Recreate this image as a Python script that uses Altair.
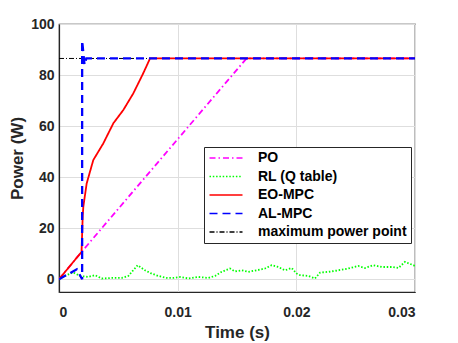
import altair as alt
import pandas as pd

# ---- data ----
series_names = ["PO", "RL (Q table)", "EO-MPC", "AL-MPC", "maximum power point"]
series_colors = ["#ff00ff", "#00ff00", "#ff0000", "#0000ff", "#000000"]
series_dash = [[6, 3, 1.5, 3], [1.5, 1.8], [1, 0], [8, 5], [5, 2, 1, 2]]
series_width = [1.8, 1.8, 1.8, 2.3, 1]

po_t = [0, 0.0019, 0.0158, 0.03]
po_p = [0, 10.7, 86.5, 86.5]

rl_t = [0, 0.00008, 0.0005, 0.00118, 0.00177, 0.00244, 0.00303, 0.0036, 0.00444,
        0.00528, 0.00584, 0.00663, 0.00725, 0.00781, 0.00837, 0.00908, 0.00963,
        0.0102, 0.0109, 0.01174, 0.01258, 0.01315, 0.01371, 0.01441, 0.01483,
        0.0154, 0.01595, 0.01666, 0.01736, 0.01792, 0.01848, 0.01904, 0.01961,
        0.02003, 0.02031, 0.02101, 0.02157, 0.022, 0.02269, 0.02354, 0.02438,
        0.02522, 0.02579, 0.02649, 0.0272, 0.02804, 0.0286, 0.02916, 0.02986, 0.03]
rl_p = [0, 0.3, 1.3, 2.7, 1.3, 0.9, 1.6, 0.3, 0.5,
        0.5, 1.3, 5.5, 3.5, 2.2, 1.3, 0.5, 0.5,
        0.9, 0.3, 0.9, 0.5, 1.3, 2.9, 4.2, 3.1,
        3.5, 2.9, 3.5, 4.2, 5.5, 4.8, 3.5, 4.4,
        2.2, 1.6, 1.3, 0.3, 2.6, 2.9, 3.5, 4.2,
        5.2, 4.4, 5.5, 4.8, 4.8, 4.4, 6.8, 5.5, 5.2]

eo_t = [0, 0.0019, 0.0020, 0.00205, 0.00233, 0.00289, 0.00373, 0.00458,
        0.00542, 0.00626, 0.0071, 0.00767, 0.03]
eo_p = [0, 10.7, 25, 28.4, 37.5, 46.7, 53.2, 61.1, 66.3, 72.8, 80.7, 86.5, 86.5]

al_t = [0, 0.0015, 0.00195, 0.00195, 0.00215, 0.0023, 0.03]
al_p = [0, 3.9, 0, 93.5, 84, 86.5, 86.5]

mpp_t = [0, 0.03]
mpp_p = [86.5, 86.5]

x_ticks = [0, 0.01, 0.02, 0.03]
y_ticks = [0, 20, 40, 60, 80, 100]

rows = []
for name, ts, ps in [(series_names[0], po_t, po_p), (series_names[1], rl_t, rl_p),
                     (series_names[2], eo_t, eo_p), (series_names[3], al_t, al_p),
                     (series_names[4], mpp_t, mpp_p)]:
    for i, (t, p) in enumerate(zip(ts, ps)):
        rows.append({"series": name, "t": t, "p": p, "i": i})
df = pd.DataFrame(rows)

FONT = "Liberation Sans"
TXT = "#262626"

x_enc = alt.X("t:Q", scale=alt.Scale(domain=[0, 0.03], nice=False),
              axis=alt.Axis(values=x_ticks, title="Time (s)",
                            labelExpr="datum.value == 0 ? '0' : format(datum.value, '.2f')",
                            ticks=False, labelPadding=13, titlePadding=5))
y_enc = alt.Y("p:Q", scale=alt.Scale(domain=[-5, 100], nice=False, zero=False),
              axis=alt.Axis(values=y_ticks, title="Power (W)", ticks=False,
                            labelPadding=5, titlePadding=4))
color_enc = alt.Color("series:N", scale=alt.Scale(domain=series_names, range=series_colors),
                      legend=alt.Legend(orient="none", legendX=145, legendY=123, title=None,
                                        symbolType="M-3.3,0H3.3", symbolSize=100,
                                        symbolStrokeWidth=1.5, symbolOffset=11,
                                        labelOffset=25, padding=4, rowPadding=4.5,
                                        labelFont=FONT, labelFontSize=14,
                                        labelFontWeight="bold", labelColor="#000000",
                                        strokeColor=TXT, fillColor="white"))
dash_enc = alt.StrokeDash("series:N", scale=alt.Scale(domain=series_names, range=series_dash),
                          legend=None)

layers = []
draw_order = [4, 0, 1, 2, 3]
for k in draw_order:
    layers.append(
        alt.Chart(df).transform_filter(alt.datum.series == series_names[k])
        .mark_line(strokeWidth=series_width[k], clip=True)
        .encode(x=x_enc, y=y_enc, color=color_enc, strokeDash=dash_enc,
                order=alt.Order("i:Q"))
    )

chart = alt.layer(*layers).properties(
    width=356, height=268,
    autosize=alt.AutoSizeParams(type="none"),
    padding={"left": 51, "top": 16, "right": 35, "bottom": 51},
    background="white",
).configure_view(stroke=TXT, strokeWidth=1.2).configure_axis(
    labelFont=FONT, labelFontSize=14, labelFontWeight="bold", labelColor=TXT,
    titleFont=FONT, titleFontSize=17, titleFontWeight="bold", titleColor=TXT,
    domainColor=TXT, domainWidth=1.2, gridColor="#dedede", gridWidth=1,
)

chart.save("out.html", embed_options={"renderer": "svg", "actions": False})
